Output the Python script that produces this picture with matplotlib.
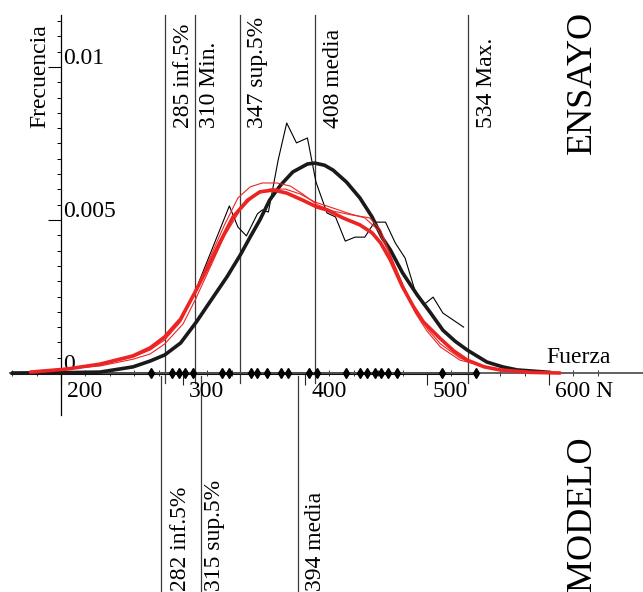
import matplotlib
matplotlib.use('Agg')
import matplotlib.pyplot as plt
import matplotlib.transforms as mtransforms
import numpy as np

plt.rcParams['font.family'] = ['Liberation Serif', 'DejaVu Serif']

# ---------------- data ----------------
ensayo_vals = [285, 310, 347, 408, 534]
ensayo_labels = ['285 inf.5%', '310 Min.', '347 sup.5%', '408 media', '534 Max.']
modelo_vals = [282, 315, 394]
modelo_labels = ['282 inf.5%', '315 sup.5%', '394 media']

xtick_vals = [200, 300, 400, 500, 600]
xtick_labels = ['200', '300', '400', '500', '600 N']
ytick_vals = [0, 0.005, 0.01]
ytick_labels = ['0', '0.005', '0.01']

rug_x = [274, 291, 297, 302, 308, 332, 338, 356, 361, 369, 380, 386, 403, 410,
         434, 445, 451, 457, 462, 468, 475, 512, 540]

hist_x = [313, 338, 345, 352, 361, 365, 370, 378, 385, 393, 402, 409, 418, 425,
          433, 441, 449, 457, 466, 474, 482, 490, 497, 505, 513, 530]
hist_y = [0.00297, 0.00546, 0.00477, 0.00448, 0.00520, 0.00533, 0.00526, 0.00696,
          0.00817, 0.00752, 0.00768, 0.00624, 0.00523, 0.00510, 0.00431, 0.00444,
          0.00444, 0.00493, 0.00493, 0.00425, 0.00376, 0.00271, 0.00222, 0.00248,
          0.00196, 0.00150]

norm_x = [160, 200, 232, 259, 273, 285, 298, 311, 322, 336, 347, 355, 363, 371,
          380, 390, 402, 408, 416, 423, 434, 445, 455, 463, 470, 480, 492, 503,
          513, 523, 533, 549, 562, 574, 601]
norm_y = [0.0, 0.00001, 0.00003, 0.0002, 0.00039, 0.00059, 0.00098, 0.00167,
          0.00232, 0.00314, 0.00386, 0.00444, 0.0050, 0.00565, 0.00614, 0.00657,
          0.00683, 0.00686, 0.00679, 0.00663, 0.00624, 0.00572, 0.0051, 0.00444,
          0.00402, 0.00327, 0.00255, 0.00196, 0.0014, 0.00104, 0.00075, 0.00036,
          0.0002, 0.0001, 0.00002]

fit_x = [175, 205, 232, 259, 273, 285, 298, 310, 320, 330, 341, 353, 363, 374,
         385, 398, 410, 418, 431, 445, 455, 462, 470, 480, 489, 497, 511, 522,
         533, 547, 560, 585, 609]
fit_y = [0.00003, 0.00013, 0.00029, 0.00056, 0.00082, 0.00118, 0.00176, 0.00265,
         0.00343, 0.00425, 0.0051, 0.00565, 0.00592, 0.00598, 0.00588, 0.00565,
         0.00542, 0.00533, 0.00507, 0.00484, 0.00458, 0.00425, 0.00369, 0.00281,
         0.00216, 0.00167, 0.00112, 0.00072, 0.00042, 0.0002, 0.0001, 0.00002, 0.0]

thinA_x = [175, 232, 259, 273, 285, 298, 310, 322, 334, 345, 355, 365, 377, 388,
           398, 410, 423, 439, 453, 462, 470, 480, 490, 500, 511, 527, 543, 560, 593]
thinA_y = [0.00003, 0.00027, 0.00052, 0.00075, 0.00108, 0.00167, 0.00265, 0.00376,
           0.00484, 0.00572, 0.00608, 0.00621, 0.00621, 0.00611, 0.00585, 0.0055,
           0.00529, 0.00516, 0.00507, 0.00467, 0.00386, 0.00288, 0.00199, 0.00137,
           0.00085, 0.00042, 0.00026, 0.0001, 0.0]

thinB_x = [175, 232, 259, 273, 285, 300, 310, 322, 334, 347, 359, 371, 384, 396,
           408, 423, 437, 449, 460, 470, 480, 490, 501, 511, 527, 543, 576, 609]
thinB_y = [0.00003, 0.00023, 0.00045, 0.00062, 0.00095, 0.0016, 0.00239, 0.00343,
           0.00448, 0.00533, 0.00582, 0.00601, 0.00601, 0.00585, 0.00559, 0.00539,
           0.0052, 0.00507, 0.00467, 0.00382, 0.00291, 0.00206, 0.00141, 0.00095,
           0.00049, 0.00023, 0.00003, 0.0]

# ---------------- figure ----------------
W, H = 643, 592
fig = plt.figure(figsize=(W / 100, H / 100), dpi=100)
ax = fig.add_axes([0, 0, 1, 1])
ax.patch.set_visible(False)
ax.set_xlim(150, 150 + W / 1.22)
ax.set_ylim(-(H - 373) / 30600, 373 / 30600)

RED = '#ec2424'
LINEGRAY = '#3a3a3a'
FS = 17

# axes (spines through x=200 and y=0)
for s in ['top', 'right']:
    ax.spines[s].set_visible(False)
ax.spines['left'].set_position(('data', 200))
ax.spines['left'].set_bounds(-0.00137, 0.0117)
ax.spines['left'].set_linewidth(0.9)
ax.spines['bottom'].set_position(('data', 0))
ax.spines['bottom'].set_bounds(158, 690)
ax.spines['bottom'].set_linewidth(1.3)
ax.spines['bottom'].set_color('#555555')
# darker heavy part of the abscissa
ax.plot([158, 538], [0, 0], color='#111111', lw=2.2, zorder=2, solid_capstyle='butt')

ax.set_xticks(xtick_vals)
ax.set_xticks(np.arange(160, 660, 20), minor=True)
ax.set_yticks(ytick_vals)
ax.set_yticks(np.arange(0, 0.0116, 0.0005), minor=True)
ax.tick_params(axis='x', which='major', direction='out', length=8.6, width=0.8,
               labelbottom=False, color='#222222')
ax.tick_params(axis='x', which='minor', direction='inout', length=4, width=0.7,
               color='#333333')
ax.tick_params(axis='y', which='major', direction='out', length=9.2, width=0.8,
               labelleft=False)
ax.tick_params(axis='y', which='minor', direction='out', length=3, width=0.7)

for v, lab in zip(ytick_vals, ytick_labels):
    ax.annotate(lab, xy=(200, v), xytext=(2, 3), textcoords='offset pixels',
                ha='left', va='baseline', fontsize=FS)
for v, lab in zip(xtick_vals, xtick_labels):
    ax.annotate(lab, xy=(v, 0), xytext=(6, -8), textcoords='offset pixels',
                ha='left', va='top', fontsize=FS)
ax.annotate('Fuerza', xy=(600, 0), xytext=(-3, 10), textcoords='offset pixels',
            ha='left', va='baseline', fontsize=FS)

# vertical reference lines
blend = mtransforms.blended_transform_factory(ax.transData, ax.transAxes)
for v in ensayo_vals:
    ax.axvline(v, ymin=1 - 383 / H, ymax=1 - 15 / H, color=LINEGRAY, lw=0.9, zorder=1)
for v in modelo_vals:
    ax.axvline(v, ymin=0, ymax=1 - 376 / H, color=LINEGRAY, lw=0.9, zorder=1)

ens_dx = [8, 4, 7, 8, 8]
for v, lab, dx in zip(ensayo_vals, ensayo_labels, ens_dx):
    tr = mtransforms.offset_copy(blend, fig=fig, x=dx, y=0, units='dots')
    ax.text(v, 1 - 128 / H, lab, transform=tr, rotation=90, ha='left',
            va='bottom', fontsize=FS)
mod_dx = [9, 3, 7]
for v, lab, dx in zip(modelo_vals, modelo_labels, mod_dx):
    tr = mtransforms.offset_copy(blend, fig=fig, x=dx, y=0, units='dots')
    ax.text(v, 1 / H, lab, transform=tr, rotation=90, ha='left',
            va='bottom', fontsize=FS)

fig.text(29 / W, 1 - 128 / H, 'Frecuencia', rotation=90, ha='left', va='bottom',
         fontsize=FS)
fig.text(566 / W, 1 - 154 / H, 'ENSAYO', rotation=90, ha='left', va='bottom',
         fontsize=26)
fig.text(566 / W, 1 - 591 / H, 'MODELO', rotation=90, ha='left', va='bottom',
         fontsize=26)

# curves
ax.plot(hist_x, hist_y, color='black', lw=0.8, zorder=3)
ax.plot(norm_x, norm_y, color='#1a1a1a', lw=2.6, zorder=4, solid_capstyle='round',
        solid_joinstyle='round')
ax.plot(thinA_x, thinA_y, color=RED, lw=0.8, zorder=5)
ax.plot(thinB_x, thinB_y, color=RED, lw=0.8, zorder=5)
ax.plot(fit_x, fit_y, color=RED, lw=2.6, zorder=6, solid_capstyle='round',
        solid_joinstyle='round')

# sample rug on the axis
ax.plot(rug_x, [0] * len(rug_x), linestyle='none', marker='d', ms=5,
        color='black', zorder=7)

fig.savefig('out.png', dpi=100)
